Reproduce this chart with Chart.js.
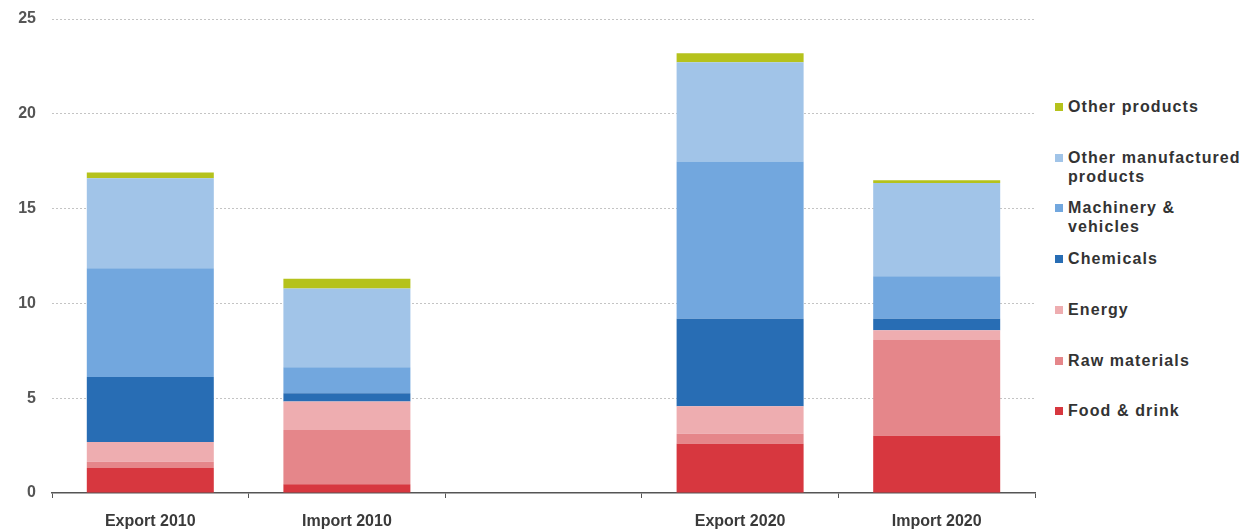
<!DOCTYPE html>
<html>
<head>
<meta charset="utf-8">
<script src="https://cdn.jsdelivr.net/npm/chart.js@4.4.0/dist/chart.umd.min.js"></script>
<style>
  body { margin: 0; background: #fff; font-family: "Liberation Sans", Arial, sans-serif; }
  #wrap { position: relative; width: 1259px; height: 532px; }
  #chartBox { position: absolute; left: 0; top: 0; width: 1045px; height: 532px; }
  #legend { position: absolute; left: 1053px; top: 0; }
  .item { position: absolute; left: 0; white-space: nowrap; font-weight: bold; font-size: 16px;
          line-height: 19px; color: #333; letter-spacing: 1.1px; }
  .box { position: absolute; left: 2px; top: 6px; width: 8px; height: 8px; }
  .txt { position: absolute; left: 15px; top: 0; }
</style>
</head>
<body>
<div id="wrap">
  <div id="chartBox"><canvas id="tradeChart"></canvas></div>
  <div id="legend"></div>
</div>
<script>
// categories (the blank one is the gap between 2010 and 2020)
const categories = ["Export 2010", "Import 2010", "", "Export 2020", "Import 2020"];

// series, bottom of the stack first
const foodDrink      = [1.32, 0.46, null, 2.60, 3.02];
const rawMaterials   = [0.33, 2.86, null, 0.53, 5.05];
const energy         = [1.04, 1.50, null, 1.44, 0.51];
const chemicals      = [3.43, 0.44, null, 4.62, 0.61];
const machinery      = [5.73, 1.37, null, 8.30, 2.24];
const otherManuf     = [4.75, 4.15, null, 5.23, 4.92];
const otherProducts  = [0.31, 0.52, null, 0.47, 0.14];

const seriesNames = [
  ["Food & drink"],
  ["Raw materials"],
  ["Energy"],
  ["Chemicals"],
  ["Machinery &", "vehicles"],
  ["Other manufactured", "products"],
  ["Other products"]
];
const seriesColors = ["#d7373f", "#e5868a", "#eeadb0", "#286db4", "#72a7de", "#a1c4e8", "#b5c21c"];
const seriesData = [foodDrink, rawMaterials, energy, chemicals, machinery, otherManuf, otherProducts];

const yTicks = [0, 5, 10, 15, 20, 25];

const datasets = seriesData.map((d, i) => ({
  label: seriesNames[i].join(" "),
  data: d,
  backgroundColor: seriesColors[i],
  borderWidth: 0,
  barPercentage: 0.646,
  categoryPercentage: 1
}));

new Chart(document.getElementById("tradeChart"), {
  type: 'bar',
  data: { labels: categories, datasets: datasets },
  options: {
    responsive: true,
    maintainAspectRatio: false,
    animation: false,
    layout: { padding: { top: 19, right: 10, bottom: 0, left: 0 } },
    plugins: {
      legend: { display: false },
      tooltip: { enabled: false }
    },
    scales: {
      x: {
        stacked: true,
        grid: {
          display: true,
          drawOnChartArea: false,
          drawTicks: true,
          tickLength: 5,
          color: '#555'
        },
        border: { display: true, color: '#555', width: 1.5 },
        ticks: {
          color: '#3a3a3a',
          padding: 14,
          font: { family: 'Liberation Sans', size: 16, weight: 'bold' }
        },
        afterFit: scale => { scale.height = 39; }
      },
      y: {
        stacked: true,
        min: 0,
        max: 25,
        afterBuildTicks: scale => { scale.ticks = yTicks.map(v => ({ value: v })); },
        grid: {
          drawTicks: false,
          color: ctx => ctx.tick && ctx.tick.value === 0 ? 'rgba(0,0,0,0)' : '#c4c4c4',
          lineWidth: 1
        },
        border: { display: false, dash: [2, 2] },
        ticks: {
          color: '#555',
          padding: 16,
          font: { family: 'Liberation Sans', size: 16, weight: 'bold' }
        },
        afterFit: scale => {
          scale.width = 52;
          scale.paddingTop = 0;
          scale.paddingBottom = 0;
        }
      }
    }
  }
});

// legend on the right, top item is the top of the stack
const legend = document.getElementById("legend");
for (let i = seriesNames.length - 1, slot = 0; i >= 0; i--, slot++) {
  const item = document.createElement("div");
  item.className = "item";
  item.style.top = (97 + slot * 50.7) + "px";
  const box = document.createElement("div");
  box.className = "box";
  box.style.background = seriesColors[i];
  const txt = document.createElement("div");
  txt.className = "txt";
  txt.innerHTML = seriesNames[i].map(s => s.replace("&", "&amp;")).join("<br>");
  item.appendChild(box);
  item.appendChild(txt);
  legend.appendChild(item);
}
</script>
</body>
</html>
